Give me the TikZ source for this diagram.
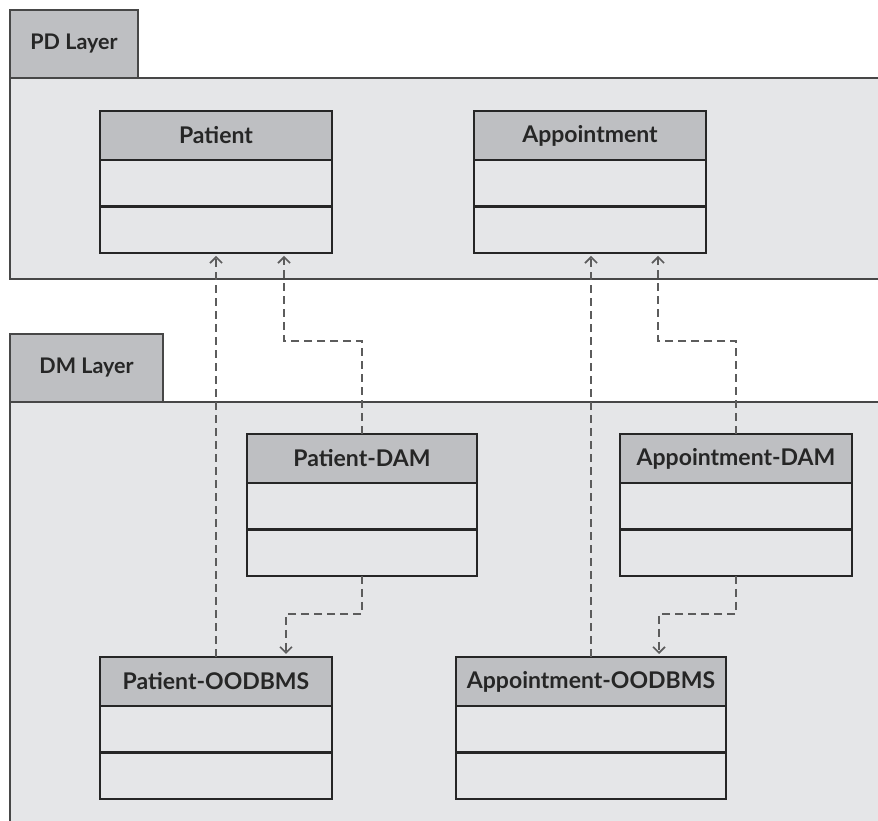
\documentclass[tikz,border=0pt]{standalone}
\usepackage{fontspec}
\setmainfont{Lato}
\usetikzlibrary{positioning,arrows.meta}

\definecolor{pkgfill}{HTML}{E5E6E8}
\definecolor{headfill}{HTML}{BEBFC2}
\definecolor{inkline}{HTML}{262626}
\definecolor{depline}{HTML}{5C5C5C}

\begin{document}
\begin{tikzpicture}[x=1pt,y=1pt,>={Straight Barb[length=6pt,width=12pt]},
  pkgtab/.style={draw=inkline!85,line width=1.3pt,fill=headfill,anchor=north west,
    minimum height=68pt,inner sep=0pt,outer sep=0pt,font=\bfseries\fontsize{21.5}{26}\selectfont,text=inkline},
  pkgbody/.style={draw=inkline!85,line width=1.3pt,fill=pkgfill,anchor=north west,inner sep=0pt,outer sep=0pt},
  classhead/.style={draw=inkline,line width=2.8pt,fill=headfill,minimum height=49pt,inner sep=0pt,outer sep=0pt,
    font=\bfseries\fontsize{23}{28}\selectfont,text=inkline},
  compart/.style={draw=inkline,line width=2.8pt,fill=pkgfill,minimum height=46.5pt,inner sep=0pt,outer sep=0pt},
  dep/.style={->,draw=depline,line width=1.6pt,dash pattern=on 8pt off 5pt,shorten >=3pt}]
\clip (0,0) rectangle (878,821);
\fill[white] (0,0) rectangle (878,821);

% packages
\node[pkgbody,minimum width=900pt,minimum height=201pt] (pd-body) at (10,743) {};
\node[pkgtab,minimum width=128pt] (pd-tab) at (10,811) {PD Layer};
\node[pkgbody,minimum width=900pt,minimum height=440pt] (dm-body) at (10,419) {};
\node[pkgtab,minimum width=153pt] (dm-tab) at (10,487) {DM Layer};

% PD layer classes
\node[classhead,minimum width=232pt,anchor=north] (pat) at (216,710) {Patient};
\node[compart,minimum width=232pt,below=0pt of pat] (pat-attr) {};
\node[compart,minimum width=232pt,below=0pt of pat-attr] (pat-ops) {};

\node[classhead,minimum width=232pt,anchor=north] (apt) at (590,710) {Appointment};
\node[compart,minimum width=232pt,below=0pt of apt] (apt-attr) {};
\node[compart,minimum width=232pt,below=0pt of apt-attr] (apt-ops) {};

% DM layer classes
\node[classhead,minimum width=230pt,anchor=north] (pdam) at (362,387) {Patient-DAM};
\node[compart,minimum width=230pt,below=0pt of pdam] (pdam-attr) {};
\node[compart,minimum width=230pt,below=0pt of pdam-attr] (pdam-ops) {};

\node[classhead,minimum width=232pt,anchor=north] (adam) at (736,387) {Appointment-DAM};
\node[compart,minimum width=232pt,below=0pt of adam] (adam-attr) {};
\node[compart,minimum width=232pt,below=0pt of adam-attr] (adam-ops) {};

\node[classhead,minimum width=232pt,anchor=north] (poo) at (216,164) {Patient-OODBMS};
\node[compart,minimum width=232pt,below=0pt of poo] (poo-attr) {};
\node[compart,minimum width=232pt,below=0pt of poo-attr] (poo-ops) {};

\node[classhead,minimum width=270pt,anchor=north] (aoo) at (591,164) {Appointment-OODBMS};
\node[compart,minimum width=270pt,below=0pt of aoo] (aoo-attr) {};
\node[compart,minimum width=270pt,below=0pt of aoo-attr] (aoo-ops) {};

% dependencies
\draw[dep] (poo.north) -- (pat-ops.south);
\draw[dep] (pdam.north) -- ++(0,93) -| ([xshift=68pt]pat-ops.south);
\draw[dep] (pdam-ops.south) -- ++(0,-38) -| ([xshift=70pt]poo.north);
\draw[dep] (aoo.north) -- (aoo.north |- apt-ops.south);
\draw[dep] (adam.north) -- ++(0,93) -| ([xshift=68pt]apt-ops.south);
\draw[dep] (adam-ops.south) -- ++(0,-38) -| ([xshift=68pt]aoo.north);
\end{tikzpicture}
\end{document}
